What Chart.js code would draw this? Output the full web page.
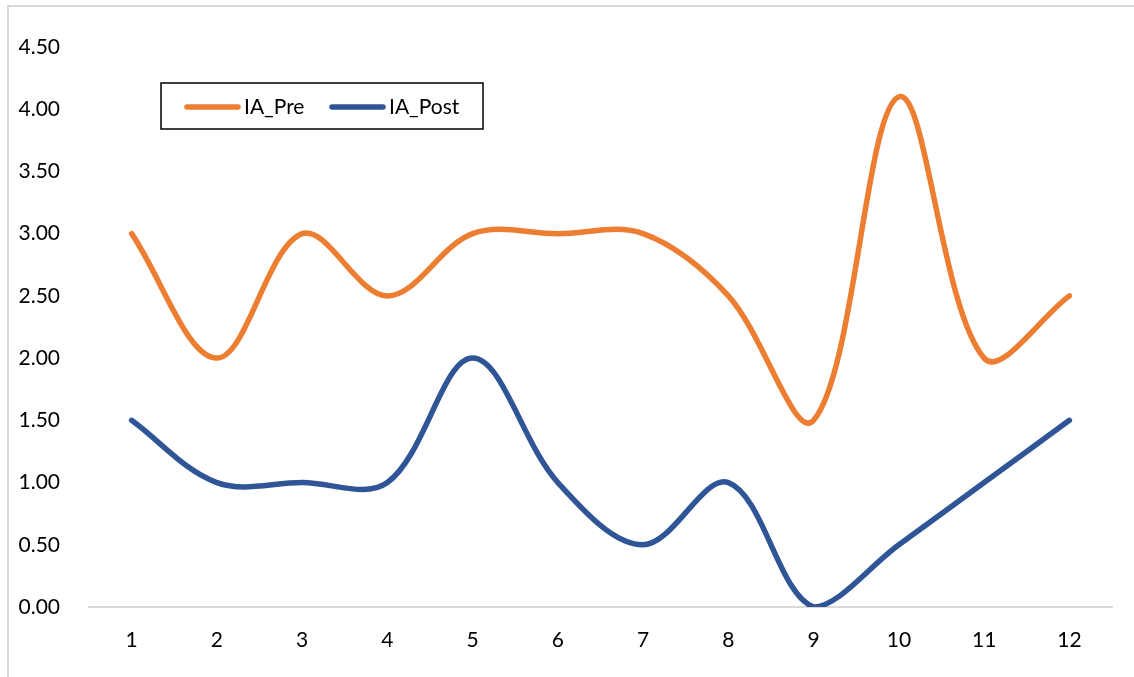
<!DOCTYPE html>
<html>
<head>
<meta charset="utf-8">
<script src="https://cdn.jsdelivr.net/npm/chart.js@4/dist/chart.umd.min.js"></script>
<style>
    html, body { margin: 0; padding: 0; background: #fff; }
    #wrap { width: 1134px; height: 677px; position: relative; }
</style>
</head>
<body>
<div id="wrap"><canvas id="chart"></canvas></div>
<script>
// Data
const categories = ["1", "2", "3", "4", "5", "6", "7", "8", "9", "10", "11", "12"];
const iaPre = [3, 2, 3, 2.5, 3, 3, 3, 2.5, 1.5, 4.1, 2, 2.5];
const iaPost = [1.5, 1, 1, 1, 2, 1, 0.5, 1, 0, 0.5, 1, 1.5];
const yTicks = [0, 0.5, 1, 1.5, 2, 2.5, 3, 3.5, 4, 4.5];

const FONT = "Lato, 'Open Sans', sans-serif";

// Outer chart frame (light gray, like the Excel chart area border)
const framePlugin = {
    id: "frame",
    beforeDraw(chart) {
        const ctx = chart.ctx;
        ctx.save();
        ctx.strokeStyle = "#d9d9d9";
        ctx.lineWidth = 2;
        ctx.strokeRect(8, 6, 1200, 800);
        ctx.restore();
    }
};

// Legend box drawn inside the plot, top left
const boxLegend = {
    id: "boxLegend",
    afterDraw(chart) {
        const ctx = chart.ctx;
        ctx.save();
        ctx.strokeStyle = "#000";
        ctx.lineWidth = 1.5;
        ctx.strokeRect(161, 83, 322, 46);
        ctx.font = "21px " + FONT;
        ctx.textBaseline = "middle";
        ctx.textAlign = "left";
        const starts = [185, 330];
        chart.data.datasets.forEach((ds, i) => {
            const x = starts[i];
            ctx.strokeStyle = ds.borderColor;
            ctx.lineWidth = 5.5;
            ctx.lineCap = "round";
            ctx.beginPath();
            ctx.moveTo(x + 2, 107);
            ctx.lineTo(x + 53, 107);
            ctx.stroke();
            ctx.fillStyle = "#000";
            ctx.fillText(ds.label, x + 59, 107);
        });
        ctx.restore();
    }
};

const ctx = document.getElementById("chart").getContext("2d");

new Chart(ctx, {
    type: "line",
    data: {
        labels: categories,
        datasets: [
            {
                label: "IA_Pre",
                data: iaPre,
                borderColor: "#ED7D31",
                backgroundColor: "#ED7D31",
                borderWidth: 5.5,
                pointRadius: 0,
                tension: 0.35,
                borderCapStyle: "round"
            },
            {
                label: "IA_Post",
                data: iaPost,
                borderColor: "#2F5597",
                backgroundColor: "#2F5597",
                borderWidth: 5.5,
                pointRadius: 0,
                tension: 0.35,
                borderCapStyle: "round"
            }
        ]
    },
    options: {
        responsive: true,
        maintainAspectRatio: false,
        animation: false,
        layout: {
            padding: { top: 47, right: 22, bottom: 0, left: 0 }
        },
        plugins: {
            legend: { display: false },
            tooltip: { enabled: false }
        },
        scales: {
            x: {
                offset: true,
                grid: { display: false },
                border: { display: true, color: "#d9d9d9", width: 2 },
                ticks: {
                    color: "#000",
                    font: { family: FONT, size: 21 },
                    padding: 13,
                    maxRotation: 0
                },
                afterFit(scale) { scale.height = 70; }
            },
            y: {
                min: 0,
                max: 4.5,
                grid: { display: false },
                border: { display: false },
                afterBuildTicks(scale) {
                    scale.ticks = yTicks.map(v => ({ value: v }));
                },
                ticks: {
                    color: "#000",
                    font: { family: FONT, size: 21 },
                    padding: 21,
                    callback: (v) => Number(v).toFixed(2)
                },
                afterFit(scale) { scale.width = 89; }
            }
        }
    },
    plugins: [framePlugin, boxLegend]
});
</script>
</body>
</html>
